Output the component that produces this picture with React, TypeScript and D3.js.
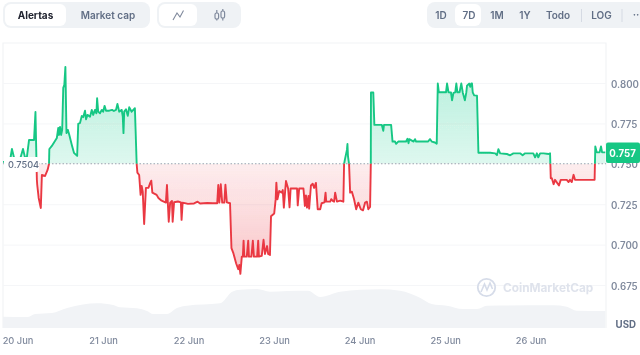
import React from "react";
import * as d3 from "d3";

const W = 640, H = 355;
const FONT = "Inter, 'Noto Sans', sans-serif";

const hours = [
 -4.2,-2.8,-2.2,-1.7,-1.1,0.6,1.4,2.0,2.5,3.1,4.5,4.9,5.2,5.3,5.4,5.8,6.4,6.7,7.6,8.3,8.7,8.8,9.5,10.9,11.3,11.5,11.8,12.1,12.4,12.7,13.0,13.3,13.6,14.0,14.4,15.1,15.7,16.6,16.9,17.4,17.9,18.3,18.8,19.1,19.5,20.2,20.7,21.1,21.6,22.0,22.2,22.5,23.0,23.5,23.9,24.3,24.7,25.6,26.4,26.9,27.5,27.9,28.4,29.1,29.4,29.6,29.8,30.3,30.8,31.2,31.9,32.8,
 33.3,33.5,34.0,34.4,34.7,35.0,35.4,35.9,36.6,37.1,37.4,37.7,38.9,39.4,40.3,41.5,41.8,42.3,42.7,43.2,43.4,43.8,44.9,45.7,45.9,46.2,47.7,49.4,50.4,51.1,53.1,54.7,55.9,56.2,56.5,56.9,57.3,57.9,58.2,58.6,59.5,59.9,60.4,61.2,61.8,62.1,62.4,62.8,63.1,63.3,63.5,64.2,64.6,64.8,65.5,65.9,66.2,67.1,67.4,67.6,68.4,68.9,69.3,69.9,70.2,70.7,71.0,71.9,72.3,72.5,72.8,73.3,74.0,74.3,74.6,75.0,75.2,75.8,76.2,76.5,78.3,78.5,78.9,80.1,80.5,80.8,81.1,81.5,81.7,82.2,82.7,83.1,83.6,84.1,84.8,85.2,86.0,86.3,86.5,87.6,87.9,88.4,88.7,89.0,89.5,90.4,91.3,
 91.5,91.8,92.3,92.45,92.6,92.9,93.2,93.7,94.3,94.9,95.5,96.2,96.8,97.4,97.9,98.3,98.8,99.0,
 99.05,99.7,100.0,102.1,102.5,102.7,104.7,105.1,105.8,106.1,106.7,108.9,109.3,109.6,109.8,111.0,111.4,111.7,115.1,115.6,116.1,117.0,117.5,117.8,118.1,120.1,120.4,120.8,121.5,121.8,122.2,122.7,123.0,123.3,123.9,124.4,124.8,125.4,125.8,126.0,126.6,126.9,127.2,127.4,127.6,128.0,128.8,129.2,130.5,132.5,133.9,134.4,134.8,135.3,137.2,138.1,139.0,140.9,141.6,142.3,144.6,145.1,145.6,146.0,146.5,147.5,148.9,149.3,
 149.5,149.8,150.3,150.7,151.8,152.3,154.0,154.5,154.9,155.4,155.9,156.3,160.6,161.8,162.0,162.4,163.2,163.6,163.9,164.8,
];

const prices = [
 .7515,.7515,.7527,.7595,.7540,.7533,.7595,.7540,.7546,.7651,.7651,.7824,.7496,.7403,.7372,.7292,.7230,.7434,.7428,.7465,.7502,.7595,.7614,.7663,.7725,.7682,.7732,.7682,.7713,.7973,.7992,.8103,.7694,.7713,.7682,.7620,.7571,.7552,.7750,.7756,.7800,.7792,.7832,.7779,.7806,.7795,.7837,.7806,.7837,.7816,.7909,.7826,.7816,.7837,.7826,.7862,.7832,.7832,.7837,.7830,.7837,.7874,.7826,.7837,.7795,.7693,.7826,.7841,.7800,.7853,.7826,.7847,
 .7502,.7449,.7434,.7311,.7366,.7331,.7131,.7354,.7354,.7385,.7399,.7325,.7311,.7292,.7275,.7263,.7372,.7145,.7263,.7273,.7145,.7265,.7270,.7265,.7156,.7263,.7255,.7258,.7269,.7258,.7261,.7259,.7259,.7372,.7263,.7377,.7263,.7263,.7374,.7265,.7259,.6981,.6952,.6888,.6851,.6877,.6822,.6929,.6929,.7028,.6929,.6929,.7028,.6929,.6929,.7028,.6929,.6929,.7028,.6929,.6933,.7033,.6945,.6994,.6945,.6939,.7179,.7196,.7283,.7387,.7283,.7335,.7325,.7341,.7232,.7345,.7397,.7350,.7234,.7350,.7350,.7246,.7350,.7350,.7242,.7308,.7232,.7304,.7226,.7369,.7380,.7354,.7385,.7222,.7222,.7259,.7265,.7325,.7269,.7269,.7284,.7272,.7269,.7325,.7269,.7275,.7269,
 .7502,.7537,.7589,.7626,.7549,.7502,.7325,.7331,.7284,.7222,.7263,.7222,.7215,.7263,.7269,.7222,.7236,.7502,
 .7945,.7945,.7744,.7744,.7707,.7744,.7744,.7641,.7641,.7627,.7641,.7641,.7658,.7631,.7656,.7641,.7656,.7641,.7641,.7656,.7641,.7635,.7627,.8000,.7946,.7946,.8000,.7946,.7945,.7896,.7942,.7946,.8000,.7946,.7946,.8000,.7945,.7896,.7945,.7987,.8000,.7980,.8000,.8000,.7946,.7927,.7925,.7572,.7572,.7572,.7568,.7557,.7594,.7568,.7564,.7556,.7568,.7568,.7556,.7568,.7568,.7543,.7568,.7543,.7568,.7568,.7564,.7568,
 .7414,.7414,.7377,.7404,.7369,.7404,.7404,.7390,.7404,.7390,.7435,.7404,.7404,.7404,.7611,.7574,.7574,.7611,.7574,.7574,
];

const volHours = [-4.2,2.8,4.8,9.5,13.8,18.2,22.2,26.7,28.6,33.4,36.2,37.9,41.8,44.6,47.4,56.7,60.1,62.3,67.1,70.7,75.5,81.4,84.8,90.4,101.6,107.2,112.8,116.1,120.3,124.9,128.8,131.6,150.2,154,156.8,164.8];
const volumes = [22.6,22,28,30,40,47,49.4,46,41.4,39.4,34,28,28,40,44.6,49.4,72.6,76.6,78,72.6,74,74.6,62,72.6,77.4,74.6,60.6,48,44.6,38,38,44.6,45.4,42.6,34.6,34];

const baseline = 0.7504;
const lastPrice = "0.757";
const yTicks = [0.8, 0.775, 0.75, 0.725, 0.7, 0.675];
const dayTicks = [0, 24, 48, 72, 96, 120, 144];
const dayLabels = ["20 Jun", "21 Jun", "22 Jun", "23 Jun", "24 Jun", "25 Jun", "26 Jun"];
const rangeTabs = ["1D", "7D", "1M", "1Y", "Todo", "LOG"];
const rangeCenters = [441, 469, 497, 525, 558, 601.5];

const L = 3, R = 606, T = 43, B = 328;
const x = d3.scaleLinear().domain([-4.21, 165]).range([L, R]);
const y = d3.scaleLinear().domain([0.6487, 0.8251]).range([B, T]);
const v = d3.scaleLinear().domain([0, 100]).range([B, B - 50]);

const pts = hours.map((h, i) => [h, prices[i]] as [number, number]);
const linePath = d3.line<[number, number]>().x(d => x(d[0])).y(d => y(d[1]))(pts) as string;
const areaPath = d3.area<[number, number]>().x(d => x(d[0])).y0(y(baseline)).y1(d => y(d[1]))(pts) as string;
const volPath = d3.area<number>().x((_, i) => x(volHours[i])).y0(B).y1(d => v(d)).curve(d3.curveMonotoneX)(volumes) as string;

const GRAY = "#808a9d";
const GREEN = "#16c784";
const RED = "#ea3943";

export default function App() {
  const by = y(baseline);
  return (
    <svg width={W} height={H} viewBox={`0 0 ${W} ${H}`} style={{ position: "fixed", left: 0, top: 0, background: "#fff" }} fontFamily={FONT}>
      <defs>
        <clipPath id="above"><rect x={0} y={0} width={W} height={by} /></clipPath>
        <clipPath id="below"><rect x={0} y={by} width={W} height={H - by} /></clipPath>
        <linearGradient id="gUp" gradientUnits="userSpaceOnUse" x1={0} x2={0} y1={y(0.8)} y2={by}>
          <stop offset="0" stopColor={GREEN} stopOpacity={0.26} />
          <stop offset="1" stopColor={GREEN} stopOpacity={0.13} />
        </linearGradient>
        <linearGradient id="gDown" gradientUnits="userSpaceOnUse" x1={0} x2={0} y1={by} y2={y(0.685)}>
          <stop offset="0" stopColor={RED} stopOpacity={0.09} />
          <stop offset="1" stopColor={RED} stopOpacity={0.28} />
        </linearGradient>
        <filter id="soft" x="-2%" y="-2%" width="104%" height="104%"><feGaussianBlur stdDeviation="0.45" /></filter>
      </defs>
      <g filter="url(#soft)">
        {/* top controls */}
        <rect x={3} y={2} width={147} height={26} rx={8} fill="#eff2f5" />
        <rect x={5} y={4} width={61} height={22} rx={6} fill="#fff" />
        <text x={35.5} y={18.7} textAnchor="middle" fontSize={10} fontWeight={700} fill="#222531">Alertas</text>
        <text x={108} y={18.7} textAnchor="middle" fontSize={10} fontWeight={600} fill="#616e85">Market cap</text>
        <rect x={157} y={2} width={84} height={26} rx={8} fill="#eff2f5" />
        <rect x={159} y={4} width={38} height={22} rx={6} fill="#fff" />
        <path d="M173 20 L177 13 L180 17 L183.5 10.5" fill="none" stroke={GRAY} strokeWidth={1.1} />
        <g fill="none" stroke={GRAY} strokeWidth={1.2}>
          <rect x={215} y={13} width={3.6} height={6} rx={1.6} />
          <path d="M216.8 10 V13 M216.8 19 V20.5" />
          <rect x={221} y={11} width={3.6} height={7} rx={1.6} />
          <path d="M222.8 9 V11 M222.8 18 V20.5" />
        </g>
        <rect x={427} y={2} width={220} height={26} rx={8} fill="#eff2f5" />
        <rect x={455} y={4} width={26} height={22} rx={6} fill="#fff" />
        {rangeTabs.map((t, i) => (
          <text key={t} x={rangeCenters[i]} y={18.7} textAnchor="middle" fontSize={10} fontWeight={600} fill="#616e85">{t}</text>
        ))}
        <path d="M581.5 9 V22 M622 9 V22" stroke="#d5dae3" strokeWidth={1} />
        <text x={636} y={18} textAnchor="middle" fontSize={10} fontWeight={700} fill="#616e85">··</text>

        {/* frame and grid */}
        <path d={`M${L} ${B} V${T} H${R} V${B}`} fill="none" stroke="#f2f3f6" strokeWidth={1.2} />
        {yTicks.filter(t => t !== 0.75).map(t => (
          <line key={t} x1={L} x2={R} y1={y(t)} y2={y(t)} stroke="#f5f6f8" strokeWidth={1} />
        ))}

        {/* volume */}
        <path d={volPath} fill="#f1f3f6" />

        {/* price */}
        <path d={areaPath} fill="url(#gUp)" clipPath="url(#above)" />
        <path d={areaPath} fill="url(#gDown)" clipPath="url(#below)" />
        <line x1={L} x2={R} y1={by} y2={by} stroke="#9aa2b1" strokeWidth={1.1} strokeDasharray="1.5 2" />
        <path d={linePath} fill="none" stroke={GREEN} strokeWidth={1.9} strokeLinejoin="round" clipPath="url(#above)" />
        <path d={linePath} fill="none" stroke={RED} strokeWidth={1.9} strokeLinejoin="round" clipPath="url(#below)" />

        {/* baseline label */}
        <rect x={4} y={157} width={35} height={15} rx={2} fill="#fff" />
        <text x={8} y={168} fontSize={9.2} fontWeight={500} fill="#616e85">0.7504</text>

        {/* y axis */}
        {yTicks.map(t => (
          <text key={t} x={611} y={y(t) + 4} fontSize={9.7} fontWeight={600} fill={GRAY}>{d3.format(".3f")(t)}</text>
        ))}
        <rect x={606} y={142.5} width={34} height={20.5} rx={2} fill={GREEN} />
        <text x={622.5} y={156.5} textAnchor="middle" fontSize={9.7} fontWeight={700} fill="#fff">{lastPrice}</text>
        <text x={636} y={327.5} textAnchor="end" fontSize={9.7} fontWeight={700} fill="#616e85">USD</text>

        {/* x axis */}
        {dayTicks.map((h, i) => (
          <text key={h} x={x(h)} y={344.3} textAnchor="middle" fontSize={9.3} fontWeight={500} fill={GRAY}>{dayLabels[i]}</text>
        ))}

        {/* watermark */}
        <circle cx={486.5} cy={287.5} r={8.7} fill="none" stroke="#d6dce9" strokeWidth={1.8} />
        <path d="M481 292 L484.5 284 L487 290 L490 283 L492.5 289" fill="none" stroke="#d6dce9" strokeWidth={1.6} />
        <text x={503} y={292} fontSize={11.8} fontWeight={700} fill="#dfe3ec">CoinMarketCap</text>
      </g>
    </svg>
  );
}
